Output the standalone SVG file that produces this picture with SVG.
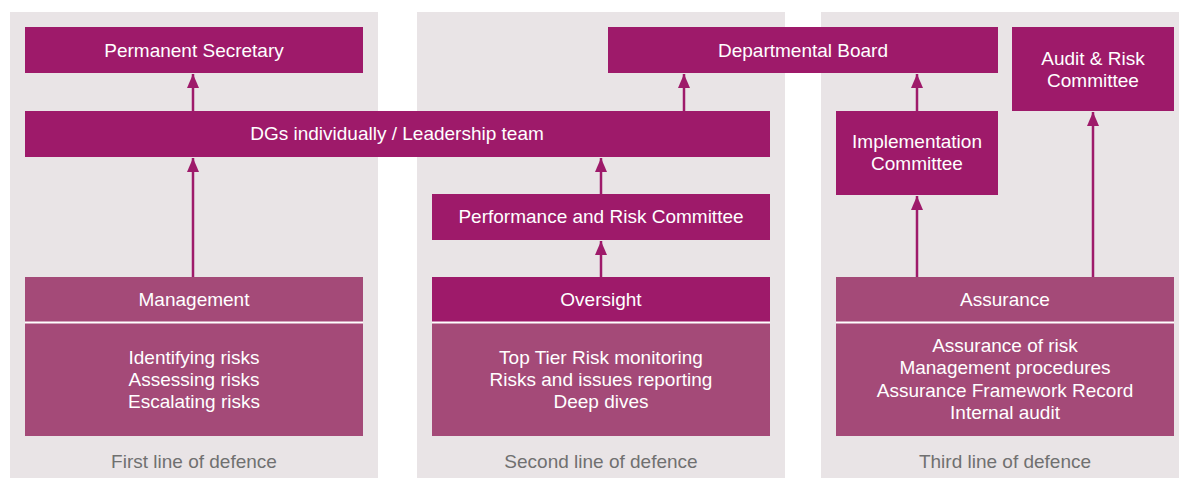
<svg xmlns="http://www.w3.org/2000/svg" width="1179" height="478" viewBox="0 0 1179 478">
<style>
.panel{fill:#E9E4E6}
.dark{fill:#9E1A6A}
.mut{fill:#A44A78}
.sep{stroke:#FFFFFF;stroke-width:2}
.t{font-family:"Liberation Sans",Arial,sans-serif;font-size:19px;fill:#FFFFFF;text-anchor:middle}
.f{font-family:"Liberation Sans",Arial,sans-serif;font-size:19px;fill:#707070;text-anchor:middle}
.c{stroke:#9E1A6A;stroke-width:2.5;fill:none;marker-end:url(#ah)}
</style>
<defs>
<marker id="ah" markerUnits="userSpaceOnUse" viewBox="0 0 14 12" refX="14" refY="6" markerWidth="14" markerHeight="12" orient="auto">
<path d="M0,0 L14,6 L0,12 z" fill="#9E1A6A"/>
</marker>
</defs>
<rect width="1179" height="478" fill="#FFFFFF"/>
<g id="panels">
<rect class="panel" x="10" y="12" width="368" height="466"/>
<rect class="panel" x="417" y="12" width="368" height="466"/>
<rect class="panel" x="821" y="12" width="368" height="466"/>
</g>
<g id="connectors">
<line class="c" x1="193" y1="111" x2="193" y2="74"/>
<line class="c" x1="193" y1="277" x2="193" y2="158"/>
<line class="c" x1="684" y1="111" x2="684" y2="74"/>
<line class="c" x1="601" y1="194" x2="601" y2="158"/>
<line class="c" x1="601" y1="277" x2="601" y2="241"/>
<line class="c" x1="917" y1="111" x2="917" y2="74"/>
<line class="c" x1="917" y1="277" x2="917" y2="196"/>
<line class="c" x1="1093" y1="277" x2="1093" y2="112"/>
</g>
<g id="permanent-secretary">
<rect class="dark" x="25" y="27" width="338" height="46"/>
<text class="t" x="194" y="57">Permanent Secretary</text>
</g>
<g id="departmental-board">
<rect class="dark" x="608" y="27" width="390" height="46"/>
<text class="t" x="803" y="57">Departmental Board</text>
</g>
<g id="audit-risk-committee">
<rect class="dark" x="1012" y="27" width="162" height="84"/>
<text class="t" x="1093" y="65">Audit &amp; Risk</text>
<text class="t" x="1093" y="87">Committee</text>
</g>
<g id="dgs-leadership">
<rect class="dark" x="25" y="111" width="745" height="46"/>
<text class="t" x="397" y="140">DGs individually / Leadership team</text>
</g>
<g id="implementation-committee">
<rect class="dark" x="836" y="111" width="162" height="84"/>
<text class="t" x="917" y="148">Implementation</text>
<text class="t" x="917" y="170">Committee</text>
</g>
<g id="performance-risk-committee">
<rect class="dark" x="432" y="194" width="338" height="46"/>
<text class="t" x="601" y="223">Performance and Risk Committee</text>
</g>
<g id="management">
<rect class="mut" x="25" y="277" width="338" height="159"/>
<line class="sep" x1="25" y1="322.5" x2="363" y2="322.5"/>
<text class="t" x="194" y="306">Management</text>
<text class="t" x="194" y="364">Identifying risks</text>
<text class="t" x="194" y="386">Assessing risks</text>
<text class="t" x="194" y="408">Escalating risks</text>
</g>
<g id="oversight">
<rect class="mut" x="432" y="277" width="338" height="159"/>
<rect class="dark" x="432" y="277" width="338" height="45"/>
<line class="sep" x1="432" y1="322.5" x2="770" y2="322.5"/>
<text class="t" x="601" y="306">Oversight</text>
<text class="t" x="601" y="364">Top Tier Risk monitoring</text>
<text class="t" x="601" y="386">Risks and issues reporting</text>
<text class="t" x="601" y="408">Deep dives</text>
</g>
<g id="assurance">
<rect class="mut" x="836" y="277" width="338" height="159"/>
<line class="sep" x1="836" y1="322.5" x2="1174" y2="322.5"/>
<text class="t" x="1005" y="306">Assurance</text>
<text class="t" x="1005" y="352">Assurance of risk</text>
<text class="t" x="1005" y="374">Management procedures</text>
<text class="t" x="1005" y="397">Assurance Framework Record</text>
<text class="t" x="1005" y="419">Internal audit</text>
</g>
<g id="footers">
<text class="f" x="194" y="468">First line of defence</text>
<text class="f" x="601" y="468">Second line of defence</text>
<text class="f" x="1005" y="468">Third line of defence</text>
</g>
</svg>
